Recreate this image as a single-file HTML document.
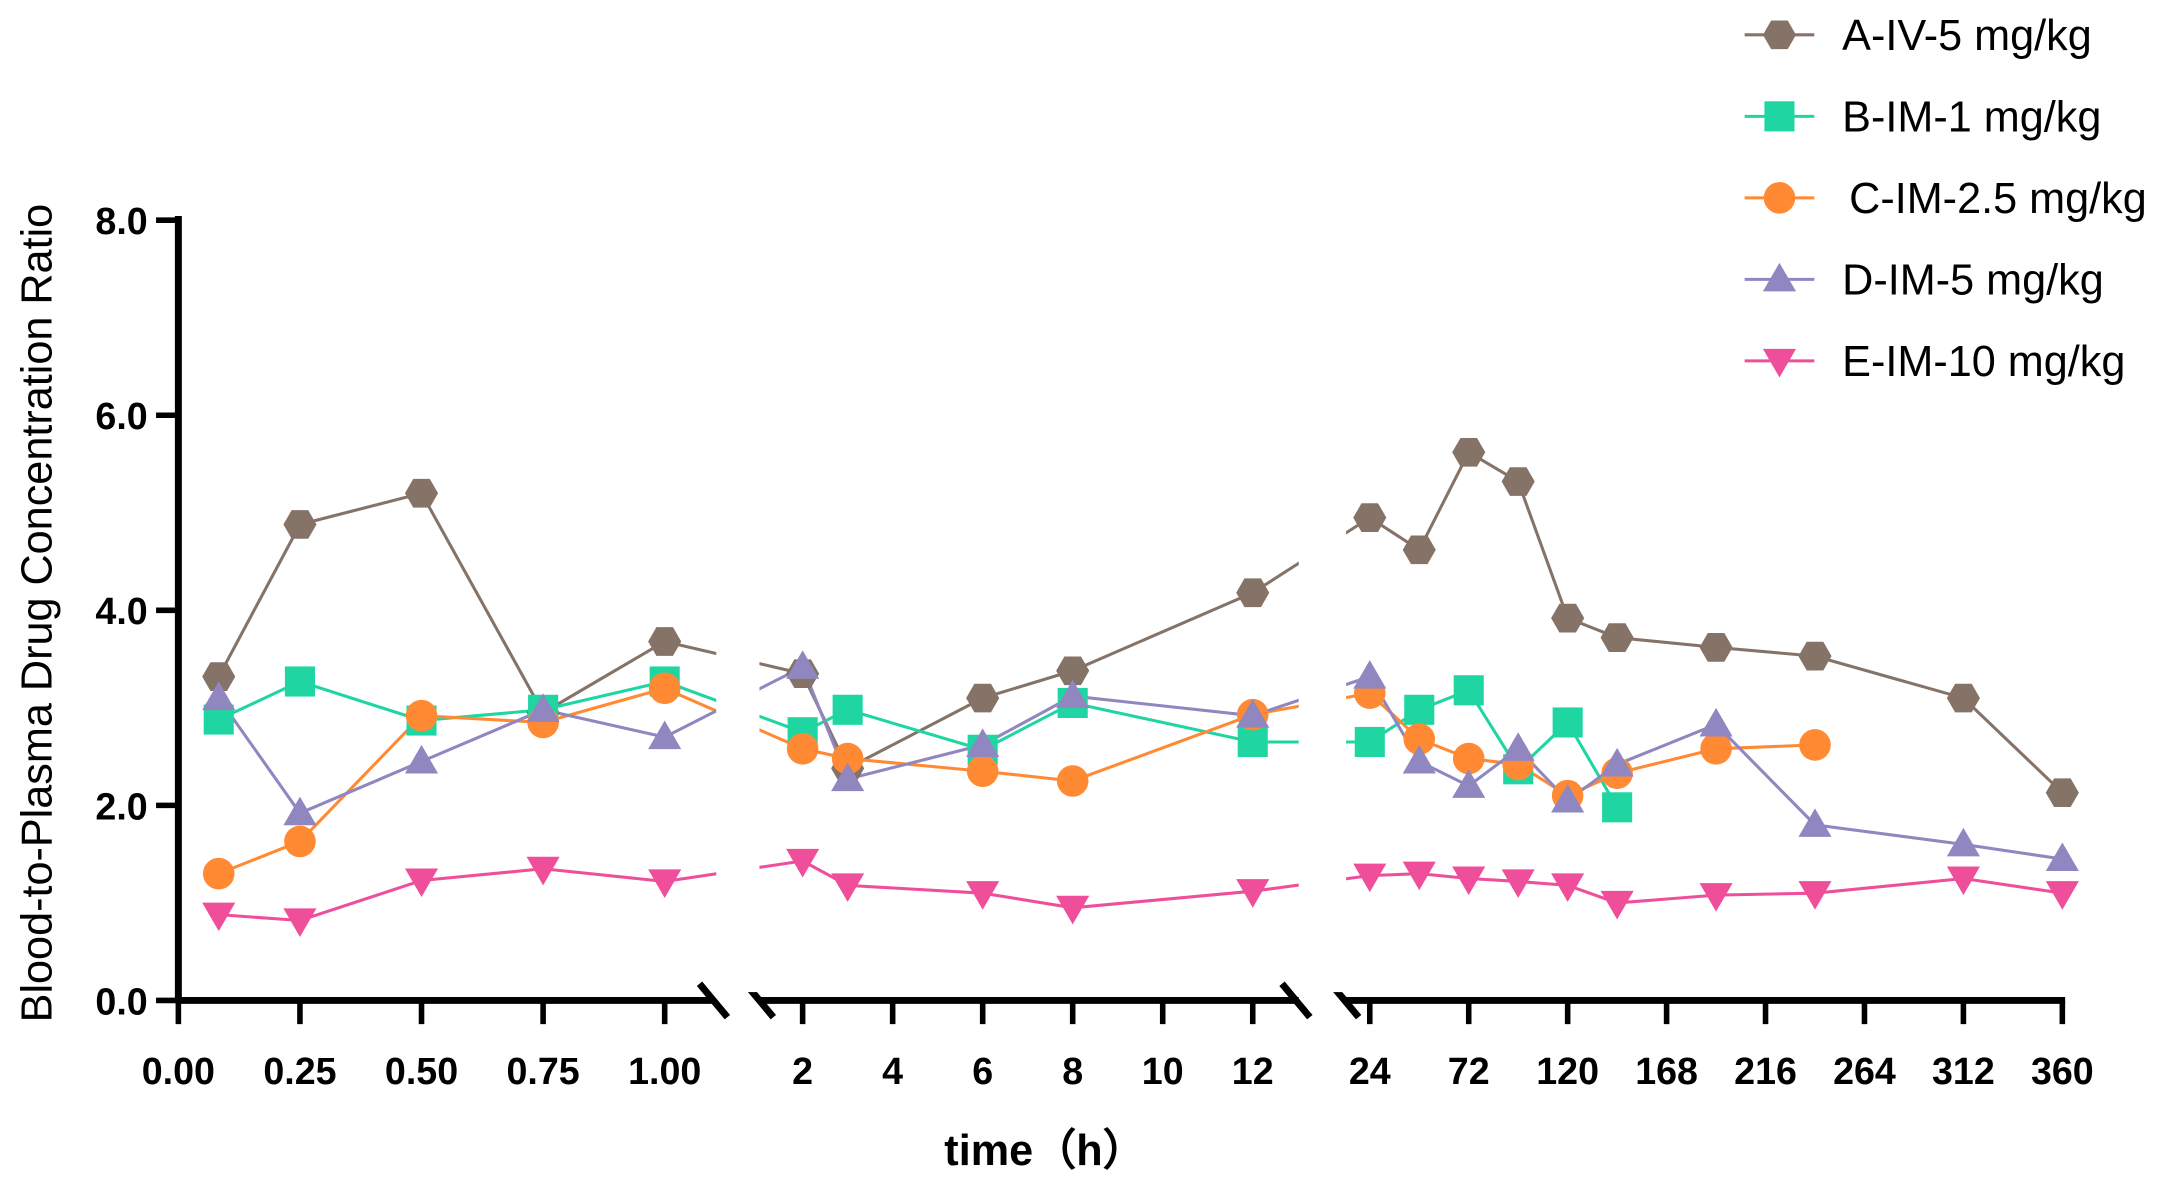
<!DOCTYPE html>
<html><head><meta charset="utf-8"><style>
html,body{margin:0;padding:0;background:#fff}
svg{display:block}
text{font-family:"Liberation Sans",Arial,sans-serif}
</style></head><body>
<svg id="chart" width="2178" height="1188" viewBox="0 0 1563 852.6" preserveAspectRatio="none" xmlns="http://www.w3.org/2000/svg">
<g id="axes"></g>
<g id="series"></g>
<g id="legend"></g>
<text transform="translate(37,440) rotate(-90)" text-anchor="middle" font-size="31">Blood-to-Plasma Drug Concentration Ratio</text>
<text x="750" y="836" text-anchor="middle" font-size="31" font-weight="bold">time（h）</text>
</svg>
<script>
const times = [0.083,0.25,0.5,0.75,1,2,3,6,8,12,24,48,72,96,120,144,192,240,312,360];
const seriesNames = ["A-IV-5 mg/kg","B-IM-1 mg/kg","C-IM-2.5 mg/kg","D-IM-5 mg/kg","E-IM-10 mg/kg"];
const valuesA = [3.32,4.88,5.2,2.95,3.68,3.35,2.38,3.1,3.38,4.18,4.95,4.62,5.62,5.32,3.92,3.72,3.62,3.53,3.1,2.13];
const valuesB = [2.88,3.27,2.87,2.98,3.27,2.75,2.98,2.57,3.05,2.65,2.65,2.98,3.18,2.37,2.85,1.98,null,null,null,null];
const valuesC = [1.3,1.63,2.92,2.85,3.2,2.58,2.48,2.35,2.25,2.93,3.15,2.68,2.48,2.42,2.1,2.33,2.58,2.62,null,null];
const valuesD = [3.1,1.92,2.45,2.98,2.7,3.42,2.27,2.62,3.12,2.92,3.32,2.45,2.2,2.58,2.05,2.42,2.83,1.8,1.6,1.45];
const valuesE = [0.88,0.82,1.23,1.35,1.22,1.43,1.18,1.1,0.95,1.12,1.28,1.3,1.25,1.22,1.18,1.0,1.08,1.1,1.25,1.1];
const yTicks = [0,2,4,6,8];
const yTickLabels = ["0.0","2.0","4.0","6.0","8.0"];
const xTicks1 = [0,0.25,0.5,0.75,1];
const xTickLabels1 = ["0.00","0.25","0.50","0.75","1.00"];
const xTicks2 = [2,4,6,8,10,12];
const xTicks3 = [24,72,120,168,216,264,312,360];

const NS="http://www.w3.org/2000/svg";
function mk(tag,attrs,parent){const e=document.createElementNS(NS,tag);for(const k in attrs)e.setAttribute(k,attrs[k]);parent.appendChild(e);return e;}
function yS(v){return 718-v*70;}
function xS(t){
  if(t<=1.5) return 128+t*349;
  if(t<=18) return 576+(t-2)*32.3;
  return 983+(t-24)*71/48;
}
const axes=document.getElementById('axes');
const ser=document.getElementById('series');
const leg=document.getElementById('legend');
const colors=["#857368","#1fd6a3","#ff8a33","#9086c0","#ef4f9a"];
const all=[valuesA,valuesB,valuesC,valuesD,valuesE];
const shapes=["hex","square","circle","tri","tridown"];

function marker(shape,x,y,c,g,s){
  s=s||1.08;
  if(shape==="hex"){let p=[];for(let i=0;i<6;i++){const a=Math.PI/3*i;p.push((x+11*s*Math.cos(a))+","+(y+11*s*Math.sin(a)));}return mk('polygon',{points:p.join(' '),fill:c},g);}
  if(shape==="square")return mk('rect',{x:x-10*s,y:y-10*s,width:20*s,height:20*s,fill:c},g);
  if(shape==="circle")return mk('circle',{cx:x,cy:y,r:10.5*s,fill:c},g);
  if(shape==="tri")return mk('polygon',{points:`${x},${y-11*s} ${x+11*s},${y+8*s} ${x-11*s},${y+8*s}`,fill:c},g);
  return mk('polygon',{points:`${x},${y+11*s} ${x+11*s},${y-8*s} ${x-11*s},${y-8*s}`,fill:c},g);
}

all.forEach((vals,si)=>{
  const g=mk('g',{},ser);
  
  
  const pts=[];
  vals.forEach((v,i)=>{if(v!==null)pts.push([xS(times[i]),yS(v)]);});
  const line=mk('polyline',{points:pts.map(p=>p.join(',')).join(' '),fill:'none',stroke:colors[si],'stroke-width':2.2},g);
  
  
});
[[514,545],[932,966]].forEach(r=>{const m=mk('rect',{x:r[0],y:100,width:r[1]-r[0],height:612,fill:'#fff'},ser);
  
  });
all.forEach((vals,si)=>{
  vals.forEach((v,i)=>{if(v===null)return;
    const m=marker(shapes[si],xS(times[i]),yS(v),colors[si],ser);
    
    
  });
});

const st={stroke:'#000','stroke-width':5};
let e=mk('line',Object.assign({x1:128,y1:155,x2:128,y2:720},st),axes);

yTicks.forEach((t,i)=>{
  mk('line',{x1:112,y1:yS(t),x2:128,y2:yS(t),stroke:'#000','stroke-width':4},axes);
  const tx=mk('text',{x:106,y:yS(t)+10,'text-anchor':'end','font-size':27,'font-weight':'bold'},axes);
  tx.textContent=yTickLabels[i];
  
});
[[126,512],[544,932],[964,1482]].forEach(s=>{
  const l=mk('line',Object.assign({x1:s[0],y1:718,x2:s[1],y2:718},st),axes);
  
});
[[502,706,522,730],[535,706,555,730],[920,706,940,730],[955,706,975,730]].forEach(b=>{
  const l=mk('line',{x1:b[0],y1:b[1],x2:b[2],y2:b[3],stroke:'#000','stroke-width':5},axes);
  
});
function xt(t,label){
  const x=xS(t);
  mk('line',{x1:x,y1:718,x2:x,y2:735,stroke:'#000','stroke-width':4},axes);
  const tx=mk('text',{x:x,y:778,'text-anchor':'middle','font-size':27,'font-weight':'bold'},axes);
  tx.textContent=label;
  
}
xTicks1.forEach((t,i)=>xt(t,xTickLabels1[i]));
xTicks2.forEach(t=>xt(t,String(t)));
xTicks3.forEach(t=>xt(t,String(t)));

seriesNames.forEach((n,i)=>{
  const y=25+i*58.5;
  const g=mk('g',{},leg);
  
  mk('line',{x1:1252,y1:y,x2:1302,y2:y,stroke:colors[i],'stroke-width':2.2},g);
  marker(shapes[i],1277,y,colors[i],g);
  const tx=mk('text',{x:i===2?1327:1322,y:y+11,'font-size':31},g);
  tx.textContent=n;
});
</script>
</body></html>
